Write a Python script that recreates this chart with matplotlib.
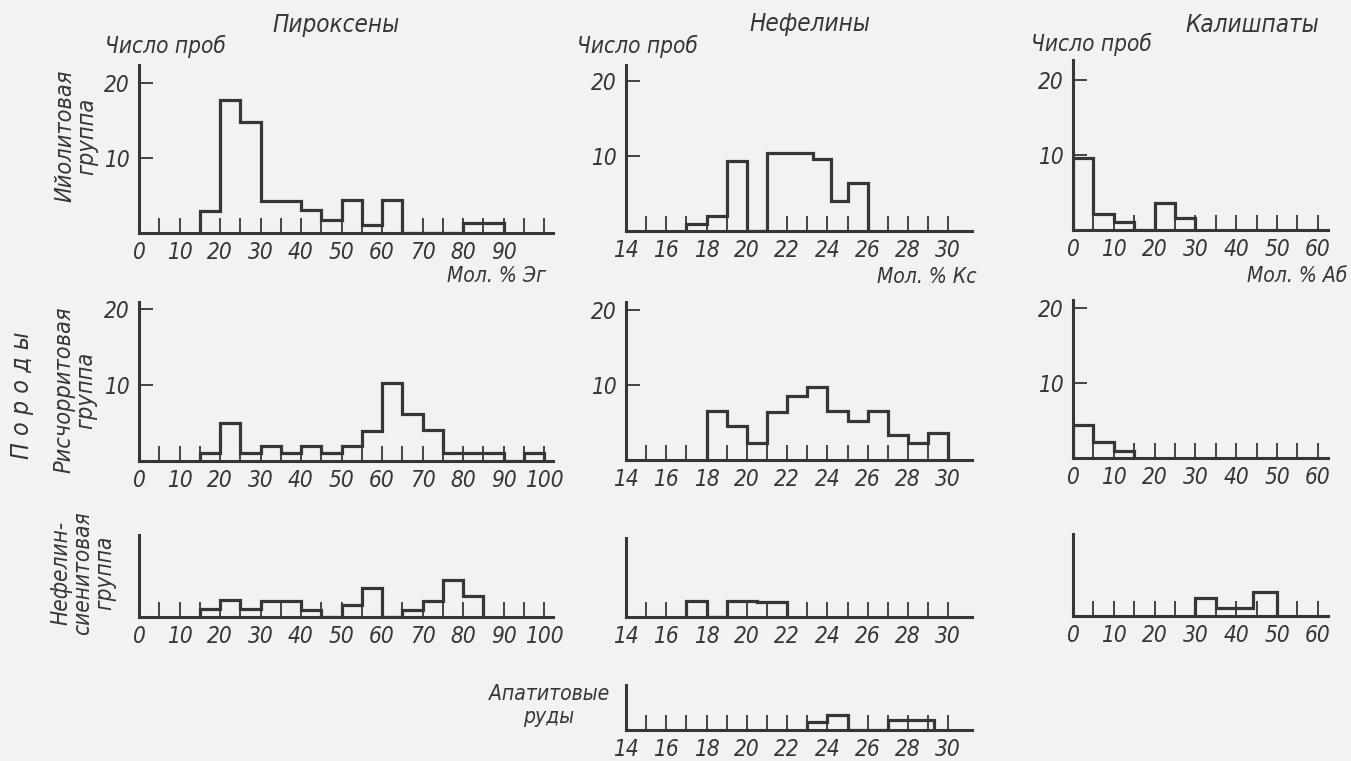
import matplotlib.pyplot as plt
from matplotlib import font_manager

W, H = 1351, 761
INK = "#363636"
BG = "#f2f2f2"

# Histogram data (bin edges and counts).
# Pyroxenes, mol. % Aeg
pyr_ijol_edges = [15, 20, 25, 30, 35, 40, 45, 50, 55, 60, 65, 70, 75, 80, 85, 90]
pyr_ijol_counts = [3.0, 17.7, 14.8, 4.3, 4.3, 3.1, 1.8, 4.4, 1.1, 4.4, 0, 0, 0, 1.4, 1.4]
pyr_risch_edges = [15, 20, 25, 30, 35, 40, 45, 50, 55, 60, 65, 70, 75, 80, 85, 90, 95, 100]
pyr_risch_counts = [1.1, 5.0, 1.0, 2.0, 1.0, 2.0, 1.0, 2.0, 3.9, 10.2, 6.2, 4.1, 1.0, 1.0, 1.0, 0, 1.0]
pyr_syen_edges = [15, 20, 25, 30, 35, 40, 45, 50, 55, 60, 65, 70, 75, 80, 85]
pyr_syen_counts = [1.1, 2.3, 1.1, 2.1, 2.1, 1.0, 0, 1.6, 3.9, 0, 1.0, 2.1, 4.9, 2.8]

# Nephelines, mol. % Ks
neph_ijol_edges = [17, 18, 19, 20, 21, 23.3, 24.2, 25, 26]
neph_ijol_counts = [1.0, 2.0, 9.3, 0, 10.4, 9.6, 4.0, 6.4]
neph_risch_edges = [18, 19, 20, 21, 22, 23, 24, 25, 26, 27, 28, 29, 30]
neph_risch_counts = [6.5, 4.5, 2.3, 6.4, 8.5, 9.7, 6.5, 5.2, 6.6, 3.4, 2.3, 3.6]
neph_syen_edges = [17, 18, 19, 20.5, 22]
neph_syen_counts = [2.1, 0, 2.2, 2.0]
neph_apat_edges = [23, 24, 25, 27, 29.3]
neph_apat_counts = [1.1, 2.0, 0, 1.3]

# K-feldspars, mol. % Ab
kfs_ijol_edges = [0, 5, 10, 15, 20, 25, 30]
kfs_ijol_counts = [9.6, 2.2, 1.1, 0, 3.6, 1.6]
kfs_risch_edges = [0, 5, 10, 15]
kfs_risch_counts = [4.4, 2.1, 1.0]
kfs_syen_edges = [30, 35, 44, 50]
kfs_syen_counts = [2.4, 1.1, 3.2]

# The scan uses a narrow drafting font; take a condensed face if one exists.
narrow = [f for f in font_manager.fontManager.ttflist
          if ("Narrow" in f.name or "Condensed" in f.name
              or f.stretch in ("condensed", "semi-condensed"))
          and f.style in ("italic", "oblique")]
if narrow:
    plt.rcParams["font.family"] = [narrow[0].name, "DejaVu Sans"]
    plt.rcParams["font.stretch"] = narrow[0].stretch
    SCALE = 1.12
else:
    plt.rcParams["font.family"] = "DejaVu Sans"
    SCALE = 1.0
plt.rcParams["font.style"] = "italic"
plt.rcParams["text.color"] = INK

fig = plt.figure(figsize=(W / 100, H / 100), dpi=100, facecolor=BG)


def panel(x0, x1, base, top, xmin, px_x, px_y):
    # Place an axes so that data units land on the same pixels as the scan.
    ax = fig.add_axes([x0 / W, 1 - base / H, (x1 - x0) / W, (base - top) / H])
    ax.set_xlim(xmin, xmin + (x1 - x0) / px_x)
    ax.set_ylim(0, (base - top) / px_y)
    ax.patch.set_alpha(0)
    for s in ("top", "right"):
        ax.spines[s].set_visible(False)
    for s in ("left", "bottom"):
        ax.spines[s].set_linewidth(2.2)
        ax.spines[s].set_color(INK)
    ax.tick_params(which="both", direction="in", color=INK, width=1.3,
                   labelsize=14.5 * SCALE, labelcolor=INK)
    ax.tick_params(axis="x", which="both", length=11, pad=6)
    ax.tick_params(axis="y", length=10, pad=7)
    return ax


def hist(ax, counts, edges):
    ax.stairs(counts, edges, baseline=0, color=INK, lw=2.3)


def y_counts(ax):
    ax.set_yticks([10, 20])


# --- Pyroxenes column
ax = panel(139, 553, 233, 65, 0, 4.05, 7.5)
hist(ax, pyr_ijol_counts, pyr_ijol_edges)
ax.set_xticks(range(0, 91, 10))
ax.set_xticks(range(5, 101, 5), minor=True)
y_counts(ax)

ax = panel(139, 553, 461, 302, 0, 4.05, 7.6)
hist(ax, pyr_risch_counts, pyr_risch_edges)
ax.set_xticks(range(0, 101, 10))
ax.set_xticks(range(5, 101, 5), minor=True)
y_counts(ax)

ax = panel(139, 553, 617, 535, 0, 4.05, 7.5)
hist(ax, pyr_syen_counts, pyr_syen_edges)
ax.set_xticks(range(0, 101, 10))
ax.set_xticks(range(5, 101, 5), minor=True)
ax.set_yticks([])

# --- Nephelines column
for base, top, counts, edges, ticks in [
    (231, 65, neph_ijol_counts, neph_ijol_edges, True),
    (460, 302, neph_risch_counts, neph_risch_edges, True),
    (617, 538, neph_syen_counts, neph_syen_edges, False),
    (730, 685, neph_apat_counts, neph_apat_edges, False),
]:
    ax = panel(626, 972, base, top, 14, 20.14, 7.5)
    hist(ax, counts, edges)
    ax.set_xticks(range(14, 31, 2))
    ax.set_xticks(range(15, 31, 1), minor=True)
    if ticks:
        y_counts(ax)
    else:
        ax.set_yticks([])

# --- K-feldspars column
for base, top, counts, edges, ticks in [
    (230, 60, kfs_ijol_counts, kfs_ijol_edges, True),
    (458, 300, kfs_risch_counts, kfs_risch_edges, True),
    (616, 534, kfs_syen_counts, kfs_syen_edges, False),
]:
    ax = panel(1073, 1328, base, top, 0, 4.08, 7.5)
    hist(ax, counts, edges)
    ax.set_xticks(range(0, 61, 10))
    ax.set_xticks(range(5, 61, 5), minor=True)
    if ticks:
        y_counts(ax)
    else:
        ax.set_yticks([])


def label(x, y, s, size=14.5, **kw):
    fig.text(x / W, 1 - y / H, s, fontsize=size * SCALE,
             ha=kw.pop("ha", "center"), va=kw.pop("va", "center"), **kw)


# Column titles
label(336, 25, "Пироксены", 15.5)
label(810, 24, "Нефелины", 15.5)
label(1252, 25, "Калишпаты", 15.5)
label(165, 46, "Число проб")
label(637, 46, "Число проб")
label(1091, 44, "Число проб")

# Axis units
label(546, 276, "Мол. % Эг", 13.5, ha="right")
label(977, 277, "Мол. % Кс", 13.5, ha="right")
label(1347, 276, "Мол. % Аб", 13.5, ha="right")

# Row labels
label(76, 136, "Ийолитовая\nгруппа", 15, rotation=90, linespacing=0.95)
label(75, 390, "Рисчорритовая\nгруппа", 15, rotation=90, linespacing=0.95)
label(83, 573, "Нефелин-\nсиенитовая\nгруппа", 14.5, rotation=90,
      linespacing=0.95)
label(22, 395, "П о р о д ы", 16, rotation=90)
label(549, 694, "Апатитовые", 13.5)
label(549, 717, "руды", 13.5)

fig.savefig("out.png", dpi=100, facecolor=BG)
